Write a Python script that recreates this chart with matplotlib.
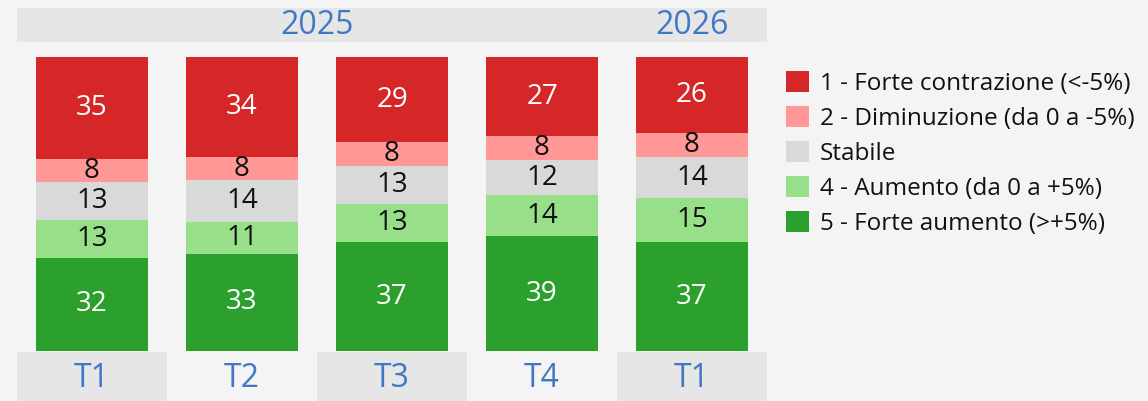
import matplotlib.pyplot as plt
from matplotlib.patches import Rectangle
import numpy as np

plt.rcParams['font.family'] = ['Open Sans', 'DejaVu Sans']

#----------------  Data  --------------------

quarters = ['T1', 'T2', 'T3', 'T4', 'T1']
years = ['2025', '2026']
year_span = [4, 1]          # number of quarters under each year

labels = ['1 - Forte contrazione (<-5%)',
          '2 - Diminuzione (da 0 a -5%)',
          'Stabile',
          '4 - Aumento (da 0 a +5%)',
          '5 - Forte aumento (>+5%)']

forte_contr = [35, 34, 29, 27, 26]
diminuzione = [8, 8, 8, 8, 8]
stabile = [13, 14, 13, 12, 14]
aumento = [13, 11, 13, 14, 15]
forte_aum = [32, 33, 37, 39, 37]

colors = ['#d62728', '#ff9896', '#d9d9d9', '#98df8a', '#2ca02c']
txt_colors = ['white', '#111111', '#111111', '#111111', 'white']

bg = '#f4f4f4'
box = '#e6e6e6'
blue = '#3f78c4'

#----------------  Figure  --------------------

W, H = 1148, 401
fig = plt.figure(figsize=(W / 100, H / 100), dpi=100, facecolor=bg)

# axes spans the column area in pixels: x 17..767, y 8..401 (from top)
ax = fig.add_axes([17 / W, 0, 750 / W, 393 / H])
ax.set_facecolor(bg)
ax.set_axis_off()

px = 294 / 100.0             # pixels per percent unit
y_bot = -50 / px             # bottom of the quarter boxes
y_top = 100 + 49 / px        # top of the year band
ax.set_xlim(-0.5, len(quarters) - 0.5)
ax.set_ylim(y_bot, y_top)

# stacked bars, bottom series first (shares normalised to 100)
series = np.array([forte_aum, aumento, stabile, diminuzione, forte_contr], float)
totals = series.sum(axis=0)
shares = series / totals * 100
x = np.arange(len(quarters))
base = np.zeros(len(quarters))
order = [4, 3, 2, 1, 0]
for row, k in enumerate(order):
    vals = shares[row]
    ax.bar(x, vals, bottom=base, width=112 / 150, color=colors[k],
           edgecolor='none', label=labels[k])
    for xi, b, v, raw in zip(x, base, vals, series[row]):
        ax.text(xi, b + v / 2, f'{int(raw)}', ha='center', va='center',
                fontsize=20, color=txt_colors[k])
    base += vals

# quarter boxes along the bottom, alternating shading
for i, q in enumerate(quarters):
    if i % 2 == 0:
        ax.add_patch(Rectangle((i - 0.5, y_bot), 1, -y_bot - 1 / px,
                               facecolor=box, edgecolor='none'))
    ax.text(i, y_bot / 2 - 1.0, q, ha='center', va='center',
            fontsize=23, color=blue)

# year band along the top
band_lo = 100 + 15 / px
ax.add_patch(Rectangle((-0.5, band_lo), len(quarters), y_top - band_lo,
                       facecolor=box, edgecolor='none'))
start = 0
for yr, n in zip(years, year_span):
    ax.text(start - 0.5 + n / 2, (band_lo + y_top) / 2 - 0.3, yr, ha='center',
            va='center', fontsize=23, color=blue)
    start += n

#----------------  Legend  --------------------

h, l = ax.get_legend_handles_labels()
leg = fig.legend(h[::-1], l[::-1], loc='upper left',
                 bbox_to_anchor=(776 / W, 1 - 61 / H), frameon=False,
                 fontsize=17.5, handlelength=0.95, handleheight=0.95,
                 handletextpad=0.45, labelspacing=0.42, borderaxespad=0)
for t in leg.get_texts():
    t.set_color('#111111')

fig.savefig('out.png', dpi=100, facecolor=bg)
